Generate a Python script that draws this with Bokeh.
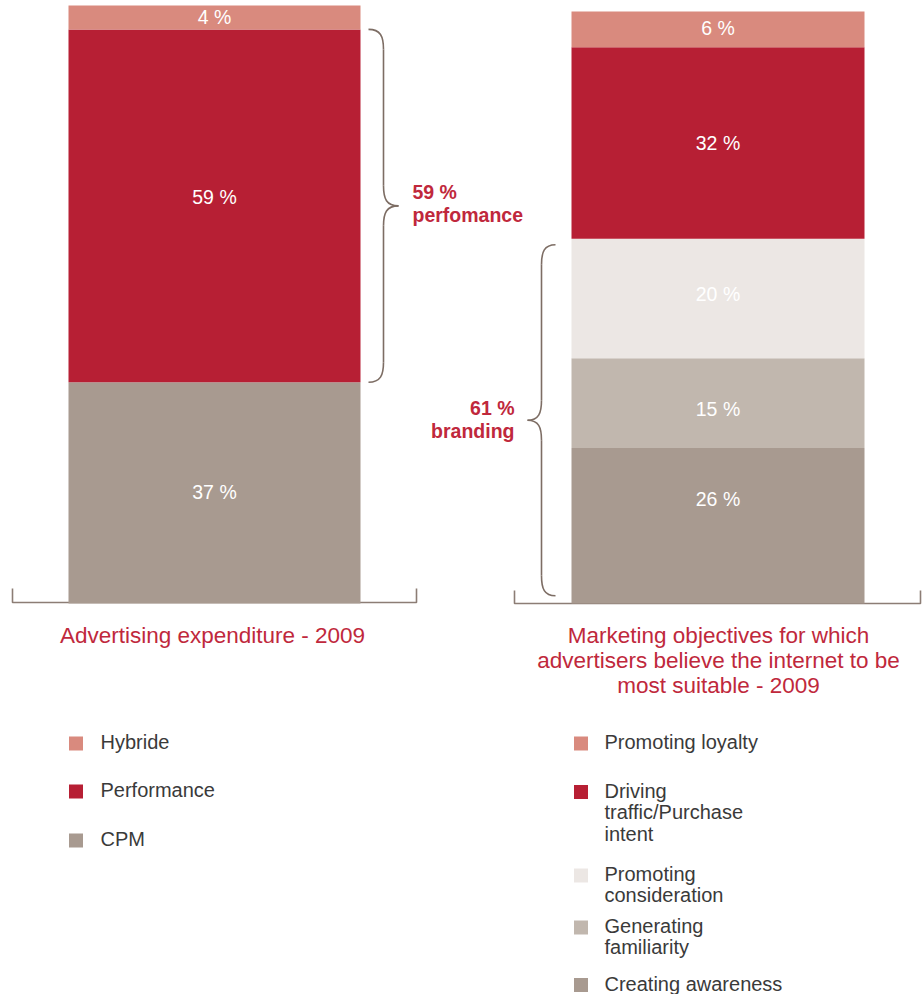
import numpy as np
from bokeh.plotting import figure
from bokeh.models import Range1d
from bokeh.core.properties import value
from bokeh.embed import file_html
from bokeh.resources import INLINE

# ---------------- data ----------------
left_categories = ["CPM", "Performance", "Hybride"]
left_values = [37, 59, 4]
left_title = "Advertising expenditure - 2009"

right_categories = ["Creating awareness", "Generating\nfamiliarity", "Promoting\nconsideration",
                    "Driving\ntraffic/Purchase\nintent", "Promoting loyalty"]
right_values = [26, 15, 20, 32, 6]
right_title = "Marketing objectives for which\nadvertisers believe the internet to be\nmost suitable - 2009"

left_brace_text = ["59 %", "perfomance"]
right_brace_text = ["61 %", "branding"]

# ---------------- styles ----------------
left_colors = ["#a89a90", "#b71f34", "#d98a7e"]
right_colors = ["#a89a90", "#c1b7ae", "#ece7e4", "#b71f34", "#d98a7e"]
RED_TEXT = "#c0283c"
BRACE = "#7d6d64"
FONT = value("Liberation Sans")

# page layout: reference pixel -> percent units on the y axis
PX_PER_PCT = 5.98
BASE_PX = 603.0
def Y(py):
    return (BASE_PX - py) / PX_PER_PCT

W, H = 922, 994
p = figure(width=W, height=H, x_range=Range1d(0, W), y_range=Range1d(Y(H), Y(0)),
           output_backend="svg", toolbar_location=None, min_border=0,
           x_axis_type=None, y_axis_type=None)
p.outline_line_color = None
p.grid.visible = False
p.background_fill_color = "white"

# baseline brackets
p.line([12, 12, 416, 416], [Y(588), Y(602), Y(602), Y(588)], line_color="#8c7d75", line_width=1.6)
p.line([514, 514, 920, 920], [Y(590), Y(603), Y(603), Y(590)], line_color="#8c7d75", line_width=1.6)

def stacked(xc, width, vals, colors):
    vals = np.array(vals, dtype=float)
    top = np.cumsum(vals)
    bottom = top - vals
    p.vbar(x=[xc] * len(vals), width=width, bottom=bottom, top=top,
           fill_color=colors, line_color=None)
    return bottom, top

lb, lt = stacked(214, 292, left_values, left_colors)
rb, rt = stacked(717.5, 293, right_values, right_colors)

# value labels (label anchor positions, in percent units)
left_label_pos = [18.7, 68.0, 98.0]
right_label_pos = [17.4, 32.6, 51.8, 77.0, 96.2]
p.text(x=[214] * 3, y=left_label_pos, text=[f"{v} %" for v in left_values],
       text_color="white", text_font=FONT, text_font_size="19.5px",
       text_align="center", text_baseline="middle")
p.text(x=[717.5] * 5, y=right_label_pos, text=[f"{v} %" for v in right_values],
       text_color="white", text_font=FONT, text_font_size="19.5px",
       text_align="center", text_baseline="middle")

# curly braces
def brace(xt, xm, xp, y0, y1, r_px=20):
    r = r_px / PX_PER_PCT
    ym = (y0 + y1) / 2
    x0s, y0s, x1s, y1s, cx0, cy0, cx1, cy1 = [], [], [], [], [], [], [], []
    def bz(a, b, c0, c1):
        x0s.append(a[0]); y0s.append(a[1]); x1s.append(b[0]); y1s.append(b[1])
        cx0.append(c0[0]); cy0.append(c0[1]); cx1.append(c1[0]); cy1.append(c1[1])
    bz((xt, y0), (xm, y0 - r), (xt + (xm - xt) * 0.8, y0), (xm, y0 - r * 0.35))
    bz((xm, ym + r), (xp, ym), (xm, ym + r * 0.35), (xm + (xp - xm) * 0.2, ym))
    bz((xp, ym), (xm, ym - r), (xm + (xp - xm) * 0.2, ym), (xm, ym - r * 0.35))
    bz((xm, y1 + r), (xt, y1), (xm, y1 + r * 0.35), (xt + (xm - xt) * 0.8, y1))
    p.bezier(x0=x0s, y0=y0s, x1=x1s, y1=y1s, cx0=cx0, cy0=cy0, cx1=cx1, cy1=cy1,
             line_color=BRACE, line_width=1.6)
    p.segment(x0=[xm, xm], y0=[y0 - r, ym - r], x1=[xm, xm], y1=[ym + r, y1 + r],
              line_color=BRACE, line_width=1.6)

# left brace spans the Performance segment
brace(368, 383, 398, lt[1], lb[1])
# right brace spans the three branding segments
brace(555, 541, 527, rt[2] - 1, rb[0] + 1.3)

p.text(x=[412, 412], y=[Y(191), Y(214)], text=left_brace_text, text_color=RED_TEXT,
       text_font=FONT, text_font_size="19.5px", text_font_style="bold",
       text_align="left", text_baseline="middle")
p.text(x=[514, 514], y=[Y(407), Y(430)], text=right_brace_text, text_color=RED_TEXT,
       text_font=FONT, text_font_size="19.5px", text_font_style="bold",
       text_align="right", text_baseline="middle")

# titles
p.text(x=[212], y=[Y(635)], text=[left_title], text_color=RED_TEXT, text_font=FONT,
       text_font_size="22.5px", text_align="center", text_baseline="middle")
rlines = right_title.split("\n")
p.text(x=[718] * len(rlines), y=[Y(635 + 25 * i) for i in range(len(rlines))], text=rlines,
       text_color=RED_TEXT, text_font=FONT, text_font_size="22.5px",
       text_align="center", text_baseline="middle")

# legends
LEG_TEXT = "#3a3a3a"
left_sq_y = [743, 791, 840]
left_tx_y = [741, 789, 838]
for cat, col, sy, ty in zip(left_categories[::-1], left_colors[::-1], left_sq_y, left_tx_y):
    p.scatter(x=[75.5], y=[Y(sy)], marker="square", size=14, fill_color=col, line_color=None)
    p.text(x=[100], y=[Y(ty)], text=[cat], text_color=LEG_TEXT, text_font=FONT,
           text_font_size="20px", text_align="left", text_baseline="middle")

right_sq_y = [743, 791.5, 875, 927, 984.5]
right_tx_y = [741, 790, 873, 925, 983]
for cat, col, sy, ty in zip(right_categories[::-1], right_colors[::-1], right_sq_y, right_tx_y):
    p.scatter(x=[580.5], y=[Y(sy)], marker="square", size=14, fill_color=col, line_color=None)
    lines = cat.split("\n")
    p.text(x=[604] * len(lines), y=[Y(ty + 21.5 * i) for i in range(len(lines))], text=lines,
           text_color=LEG_TEXT, text_font=FONT, text_font_size="20px",
           text_align="left", text_baseline="middle")

open("out.html", "w").write(file_html(p, INLINE))
